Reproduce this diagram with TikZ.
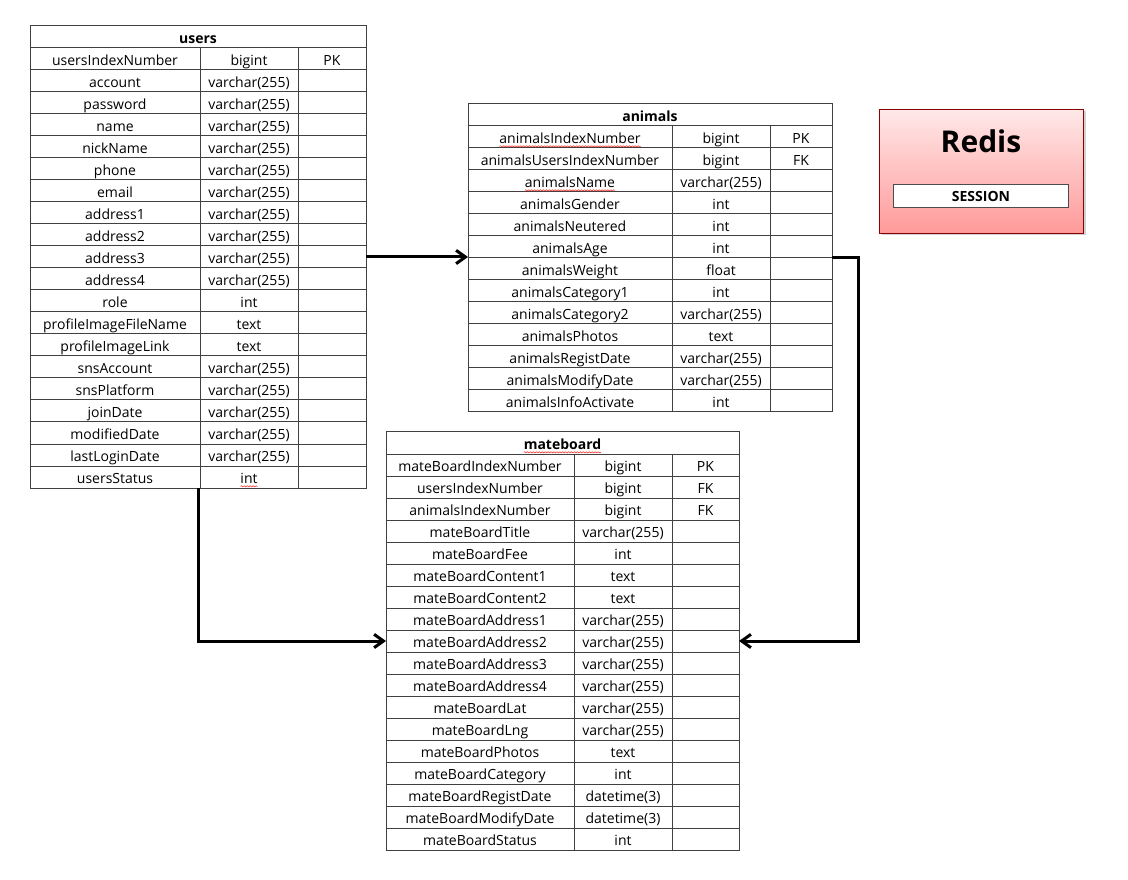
\documentclass[tikz,border=0pt]{standalone}
\usepackage{fontspec}
\setmainfont{Open Sans}
\usetikzlibrary{arrows.meta,shadows,decorations.pathmorphing}

\newcommand\cellfont{\fontsize{10.5}{12}\selectfont}

\tikzset{
  cell/.style={draw=black!75, line width=0.75pt, inner sep=0pt, outer sep=0pt,
    minimum height=16.5pt, anchor=north west, font=\cellfont,
    text height=9.8pt, text depth=0.2pt},
  titlecell/.style={cell, font=\cellfont\bfseries},
  conn/.style={line width=2.25pt, line join=miter,
    -{Straight Barb[length=7pt,width=10pt]}},
  squig/.style={red!85, line width=0.4pt, decorate,
    decoration={snake, amplitude=0.45pt, segment length=2.2pt}},
  redisbox/.style={draw=red!55!black, line width=0.75pt, top color=red!9,
    bottom color=red!40, anchor=north west,
    drop shadow={shadow xshift=1.5pt, shadow yshift=-1.5pt, opacity=0.35}},
  sessionbox/.style={draw=black!70, line width=0.75pt, fill=white, anchor=north west,
    inner sep=0pt, font=\fontsize{10.5}{12}\selectfont\bfseries},
}

% #1 name, #2 left, #3 top, #4-#6 column widths, #7 title, #8 rows name/type/key
\newcommand\erdtable[8]{%
  \node[titlecell, minimum width=(#4+#5+#6)*0.75pt] (#1-title) at (#2,#3) {#7};
  \foreach [count=\i] \fa/\fb/\fc in {#8}{
    \pgfmathsetmacro\yy{#3+22*\i}
    \node[cell, minimum width=#4*0.75pt] (#1-\i-a) at (#2,\yy) {\fa};
    \node[cell, minimum width=#5*0.75pt] (#1-\i-b) at (#2+#4,\yy) {\fb};
    \node[cell, minimum width=#6*0.75pt] (#1-\i-c) at (#2+#4+#5,\yy) {\fc};
  }%
}

% wavy spell-check underline below the text #2 of node #1 (font #3)
\newcommand\squig[3]{%
  {#3\pgfmathsetmacro\hw{width("#2")/2}\global\let\hwg\hw}%
  \draw[squig] ([xshift=-\hwg pt, yshift=-7pt]#1.center) -- ([xshift=\hwg pt, yshift=-7pt]#1.center);
}

\begin{document}
\begin{tikzpicture}[x=0.75pt, y=-0.75pt]
\fill[white] (0,0) rectangle (1128,880);
\useasboundingbox (0,0) rectangle (1128,880);

\erdtable{u}{30}{26}{170}{98}{68}{users}{%
  usersIndexNumber/bigint/PK,
  account/varchar(255)/{},
  password/varchar(255)/{},
  name/varchar(255)/{},
  nickName/varchar(255)/{},
  phone/varchar(255)/{},
  email/varchar(255)/{},
  address1/varchar(255)/{},
  address2/varchar(255)/{},
  address3/varchar(255)/{},
  address4/varchar(255)/{},
  role/int/{},
  profileImageFileName/text/{},
  profileImageLink/text/{},
  snsAccount/varchar(255)/{},
  snsPlatform/varchar(255)/{},
  joinDate/varchar(255)/{},
  modifiedDate/varchar(255)/{},
  lastLoginDate/varchar(255)/{},
  usersStatus/int/{}}

\erdtable{a}{468}{104}{204}{98}{62}{animals}{%
  animalsIndexNumber/bigint/PK,
  animalsUsersIndexNumber/bigint/FK,
  animalsName/varchar(255)/{},
  animalsGender/int/{},
  animalsNeutered/int/{},
  animalsAge/int/{},
  animalsWeight/float/{},
  animalsCategory1/int/{},
  animalsCategory2/varchar(255)/{},
  animalsPhotos/text/{},
  animalsRegistDate/varchar(255)/{},
  animalsModifyDate/varchar(255)/{},
  animalsInfoActivate/int/{}}

\erdtable{m}{386}{432}{188}{98}{67}{mateboard}{%
  mateBoardIndexNumber/bigint/PK,
  usersIndexNumber/bigint/FK,
  animalsIndexNumber/bigint/FK,
  mateBoardTitle/varchar(255)/{},
  mateBoardFee/int/{},
  mateBoardContent1/text/{},
  mateBoardContent2/text/{},
  mateBoardAddress1/varchar(255)/{},
  mateBoardAddress2/varchar(255)/{},
  mateBoardAddress3/varchar(255)/{},
  mateBoardAddress4/varchar(255)/{},
  mateBoardLat/varchar(255)/{},
  mateBoardLng/varchar(255)/{},
  mateBoardPhotos/text/{},
  mateBoardCategory/int/{},
  mateBoardRegistDate/datetime(3)/{},
  mateBoardModifyDate/datetime(3)/{},
  mateBoardStatus/int/{}}

\squig{a-1-a}{animalsIndexNumber}{\cellfont}
\squig{a-3-a}{animalsName}{\cellfont}
\squig{m-title}{mateboard}{\cellfont\bfseries}
\squig{u-20-b}{int}{\cellfont}

% Redis session store
\node[redisbox, minimum width=153pt, minimum height=93pt] (redis) at (879,109) {};
\node[font=\fontsize{22.5}{26}\selectfont\bfseries] (redis-name) at (981,141) {Redis};
\node[sessionbox, minimum width=131.25pt, minimum height=17.25pt] (session) at (893,184) {SESSION};

% relations
\draw[conn] (u-10-c.east) -- (u-10-c.east -| a-title.west);
\draw[conn] (a-7-c.north east) -- ++(26,0) |- (m-9-c.east);
\draw[conn] ([xshift=-1.5pt]u-20-a.south east) |- (m-9-a.west);
\end{tikzpicture}
\end{document}
